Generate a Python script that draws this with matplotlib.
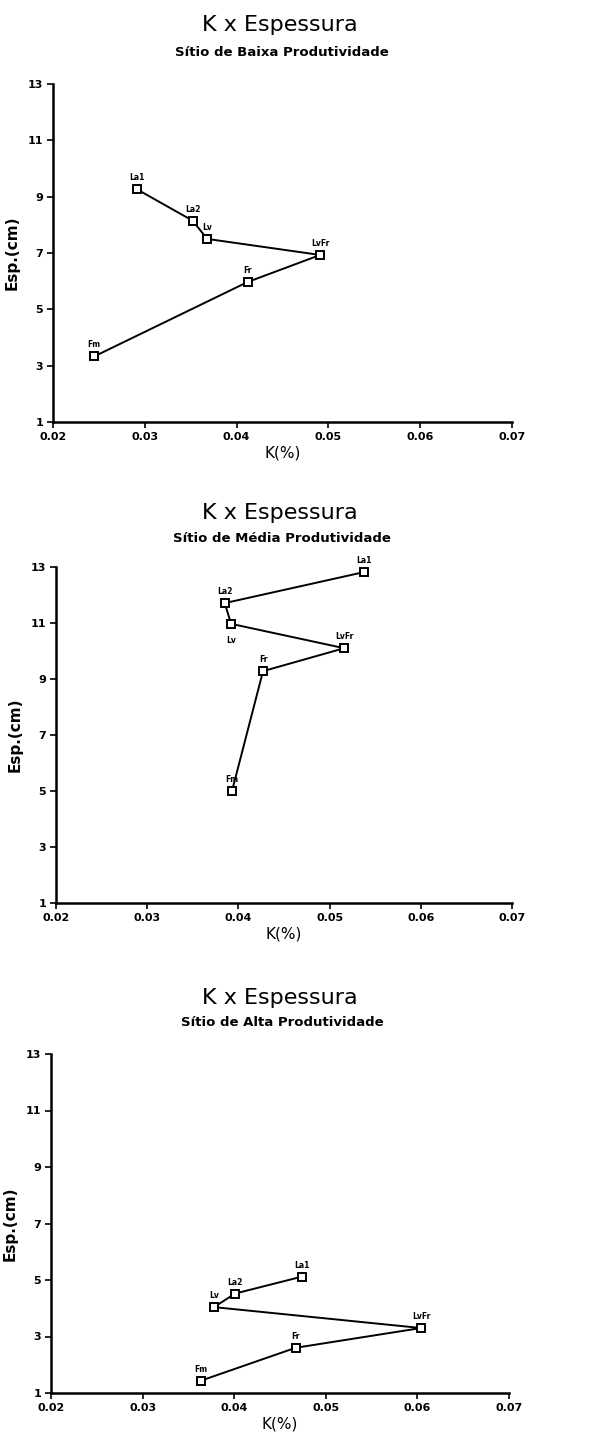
import matplotlib.pyplot as plt

# horizon labels (same order for all sites)
horizons = ["La1", "La2", "Lv", "LvFr", "Fr", "Fm"]

# K (%) and thickness (cm)
k_baixa = [0.0291, 0.0352, 0.0368, 0.0491, 0.0412, 0.0245]
esp_baixa = [9.27, 8.15, 7.50, 6.93, 5.97, 3.33]

k_media = [0.0538, 0.0385, 0.0392, 0.0516, 0.0427, 0.0393]
esp_media = [12.82, 11.71, 10.97, 10.10, 9.28, 5.00]

k_alta = [0.0474, 0.0401, 0.0378, 0.0604, 0.0467, 0.0364]
esp_alta = [5.12, 4.52, 4.04, 3.30, 2.60, 1.44]

x_ticks = [0.02, 0.03, 0.04, 0.05, 0.06, 0.07]
y_ticks = [1, 3, 5, 7, 9, 11, 13]

W, H = 614, 1443
fig = plt.figure(figsize=(W / 100, H / 100), dpi=100)

panels = [
    ("Sítio de Baixa Produtividade", k_baixa, esp_baixa, (53, 84, 512, 422), 25, 52),
    ("Sítio de Média Produtividade", k_media, esp_media, (56, 567, 512, 903), 513, 538),
    ("Sítio de Alta Produtividade", k_alta, esp_alta, (51, 1054, 509, 1393), 998, 1023),
]

for sub, k, esp, (x0, y0, x1, y1), ty, sy in panels:
    ax = fig.add_axes([x0 / W, 1 - y1 / H, (x1 - x0) / W, (y1 - y0) / H])
    ax.plot(k, esp, color="black", linewidth=1.4, marker="s", markersize=5.5,
            markerfacecolor="white", markeredgecolor="black", markeredgewidth=1.4)
    for name, xv, yv in zip(horizons, k, esp):
        if sub.startswith("Sítio de Média") and name == "Lv":
            ax.annotate(name, (xv, yv), xytext=(0, -9), textcoords="offset points",
                        ha="center", va="top", fontsize=5.5, fontweight="bold")
        else:
            ax.annotate(name, (xv, yv), xytext=(0, 5), textcoords="offset points",
                        ha="center", va="bottom", fontsize=5.5, fontweight="bold")

    ax.set_xlim(0.02, 0.07)
    ax.set_ylim(1, 13)
    ax.set_xticks(x_ticks)
    ax.set_xticklabels([f"{v:.2f}" for v in x_ticks], fontsize=8, fontweight="bold")
    ax.set_yticks(y_ticks)
    ax.set_yticklabels([str(v) for v in y_ticks], fontsize=8, fontweight="bold")
    ax.tick_params(direction="out", length=4, width=1.2, pad=3)
    for s in ["top", "right"]:
        ax.spines[s].set_visible(False)
    for s in ["left", "bottom"]:
        ax.spines[s].set_linewidth(1.8)
    ax.set_xlabel("K(%)", fontsize=11, labelpad=3)
    ax.set_ylabel("Esp.(cm)", fontsize=11, fontweight="bold", labelpad=6)

    fig.text(280 / W, 1 - ty / H, "K x Espessura", ha="center", va="center", fontsize=16)
    fig.text(282 / W, 1 - sy / H, sub, ha="center", va="center", fontsize=9.5, fontweight="bold")

fig.savefig("out.png", dpi=100)
